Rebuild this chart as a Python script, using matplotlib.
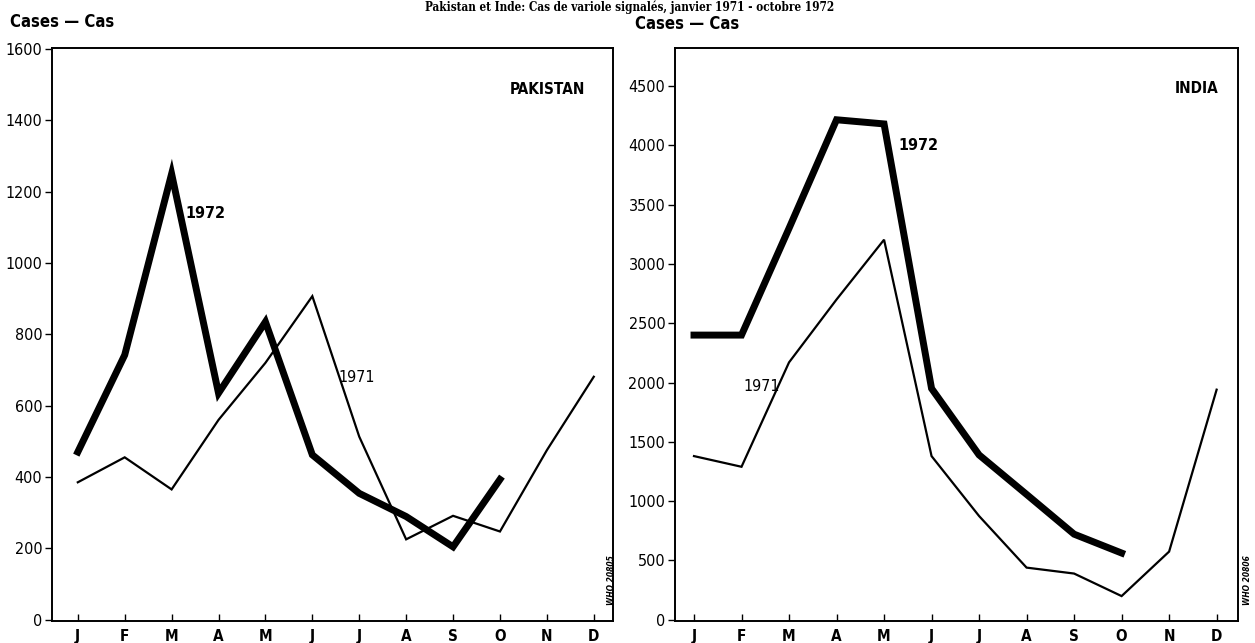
import matplotlib
matplotlib.use("Agg")
import matplotlib.pyplot as plt
from matplotlib import font_manager

months = ["J", "F", "M", "A", "M", "J", "J", "A", "S", "O", "N", "D"]

pak_1971 = [385, 455, 365, 560, 720, 907, 513, 225, 291, 247, 475, 681]
pak_1972 = [470, 742, 1250, 635, 835, 462, 354, 289, 204, 393]

ind_1971 = [1380, 1290, 2170, 2700, 3204, 1380, 875, 440, 390, 200, 575, 1940]
ind_1972 = [2400, 2400, 3300, 4215, 4180, 1950, 1390, 1057, 722, 563]

pak_yticks = [0, 200, 400, 600, 800, 1000, 1200, 1400, 1600]
ind_yticks = [0, 500, 1000, 1500, 2000, 2500, 3000, 3500, 4000, 4500]

names = {f.name for f in font_manager.fontManager.ttflist}
cond = "Liberation Sans Narrow" if "Liberation Sans Narrow" in names else "DejaVu Sans"
plt.rcParams['font.family'] = [cond, 'DejaVu Sans']
plt.rcParams['font.stretch'] = 'condensed'

W, H = 1255, 643
fig = plt.figure(figsize=(W / 100, H / 100), dpi=100)


def px_axes(x0, x1, y0, y1):
    return fig.add_axes([x0 / W, 1 - y1 / H, (x1 - x0) / W, (y1 - y0) / H])


def style(ax, yticks, xlim, ylim):
    ax.set_xlim(*xlim)
    ax.set_ylim(*ylim)
    ax.set_xticks(range(12))
    ax.set_xticklabels(months, fontsize=11, fontweight='bold')
    ax.set_yticks(yticks)
    ax.set_yticklabels([str(t) for t in yticks], fontsize=11.5)
    ax.tick_params(axis='x', direction='in', length=5, width=1, pad=6)
    ax.tick_params(axis='y', direction='out', length=5, width=1, pad=2)
    for s in ax.spines.values():
        s.set_linewidth(1.4)
        s.set_color('black')


# Pakistan
ax1 = px_axes(52, 613, 48, 621)
x = list(range(12))
ax1.plot(x[:len(pak_1971)], pak_1971, color='black', lw=1.6, solid_joinstyle='miter')
ax1.plot(x[:len(pak_1972)], pak_1972, color='black', lw=5.0, solid_joinstyle='miter')
style(ax1, pak_yticks, (-0.55, 11.41), (-4, 1603))
ax1.text(0.95, 0.927, "PAKISTAN", transform=ax1.transAxes, ha='right', va='center',
         fontsize=11, fontweight='bold')
ax1.text(2.30, 1140, "1972", fontsize=11.5, fontweight='bold', ha='left', va='center')
ax1.text(5.55, 680, "1971", fontsize=11.5, ha='left', va='center')

# India
ax2 = px_axes(675, 1238, 48, 621)
ax2.plot(x[:len(ind_1971)], ind_1971, color='black', lw=1.6, solid_joinstyle='miter')
ax2.plot(x[:len(ind_1972)], ind_1972, color='black', lw=5.0, solid_joinstyle='miter')
style(ax2, ind_yticks, (-0.4, 11.45), (-10, 4820))
ax2.text(0.965, 0.93, "INDIA", transform=ax2.transAxes, ha='right', va='center',
         fontsize=11, fontweight='bold')
ax2.text(4.3, 3995, "1972", fontsize=11.5, fontweight='bold', ha='left', va='center')
ax2.text(1.05, 1970, "1971", fontsize=11.5, ha='left', va='center')

# headers
fig.text(10 / W, 1 - 22 / H, "Cases — Cas", fontsize=12, fontweight='bold', ha='left', va='center')
fig.text(635 / W, 1 - 24 / H, "Cases — Cas", fontsize=12, fontweight='bold', ha='left', va='center')
fig.text(630 / W, 1.0, "Pakistan et Inde: Cas de variole signalés, janvier 1971 - octobre 1972",
         fontsize=8.5, fontweight='bold', family=['DejaVu Serif'], ha='center', va='top')

fig.text(611 / W, 1 - 580 / H, "WHO 20805", rotation=90, fontsize=6, fontweight='bold',
         fontstyle='italic', ha='center', va='center')
fig.text(1248 / W, 1 - 580 / H, "WHO 20806", rotation=90, fontsize=6, fontweight='bold',
         fontstyle='italic', ha='center', va='center')

fig.savefig("out.png", dpi=100)
